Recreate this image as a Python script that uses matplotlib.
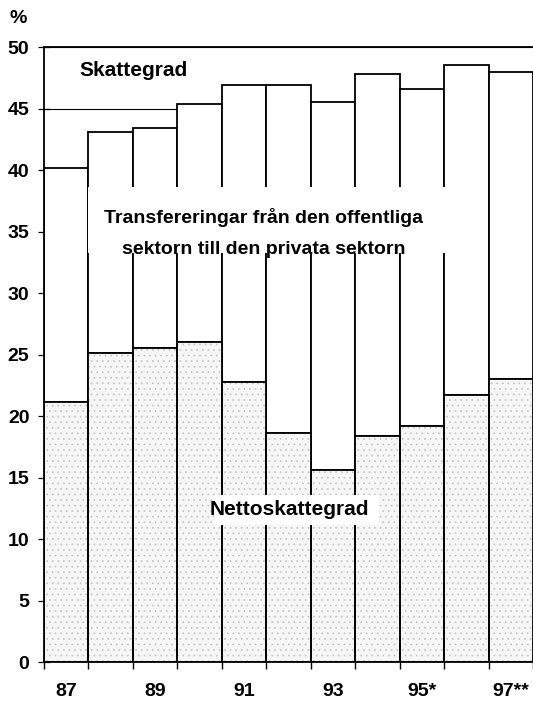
import matplotlib
matplotlib.use("Agg")
import matplotlib.pyplot as plt
import numpy as np
from matplotlib.patches import Rectangle

plt.rcParams['font.family'] = ['Liberation Sans', 'DejaVu Sans']
plt.rcParams['font.weight'] = 'bold'
plt.rcParams['hatch.linewidth'] = 0.5

# data (percent of GDP)
years = ['87', '88', '89', '90', '91', '92', '93', '94', '95*', '96', '97**']
skattegrad = [40.2, 43.1, 43.4, 45.4, 46.9, 46.9, 45.5, 47.8, 46.6, 48.5, 48.0]
nettoskattegrad = [21.1, 25.1, 25.5, 26.0, 22.8, 18.6, 15.6, 18.4, 19.2, 21.7, 23.0]
yticks = [0, 5, 10, 15, 20, 25, 30, 35, 40, 45, 50]

x = np.arange(len(years))
skatt = np.array(skattegrad)
netto = np.array(nettoskattegrad)

fig = plt.figure(figsize=(5.33, 7.03), dpi=100)
ax = fig.add_axes([0.0826, 0.0583, 0.9174, 0.8748])

# transfers part (white) on top of netto part
ax.bar(x, skatt - netto, bottom=netto, width=1.0, color='white',
       edgecolor='black', linewidth=1.3, zorder=2)
# stippled netto part: hatch first, then outline
ax.bar(x, netto, width=1.0, color='#f6f6f6', edgecolor='#c4c4c4',
       hatch='...', linewidth=0, zorder=2)
ax.bar(x, netto, width=1.0, fill=False, edgecolor='black',
       linewidth=1.3, zorder=2)

ax.set_xlim(-0.5, 10.44)
ax.set_ylim(0, 50)
ax.set_yticks(yticks)
ax.yaxis.grid(True, color='black', linewidth=0.8)
ax.set_axisbelow(True)

ax.spines['right'].set_visible(False)
for s in ['left', 'bottom', 'top']:
    ax.spines[s].set_linewidth(1.3)

ax.tick_params(axis='y', direction='inout', length=9, width=0.9,
               labelsize=14, pad=6)
# ticks at bar edges, labels at every second bar centre
ax.set_xticks(np.arange(-0.5, len(years) + 0.5, 1.0))
ax.set_xticklabels([])
ax.set_xticks(x[::2], [years[i] for i in x[::2]], minor=True)
ax.tick_params(axis='x', which='major', direction='out', length=5, width=1.0)
ax.tick_params(axis='x', which='minor', length=0, labelsize=14, pad=15)

# white gaps behind the labels
ax.add_patch(Rectangle((0.48, 33.25), 8.3, 5.35, facecolor='white',
                       edgecolor='none', zorder=3))
ax.add_patch(Rectangle((3.33, 11.1), 3.7, 2.5, facecolor='white',
                       edgecolor='none', zorder=3))

ax.text(0.3, 48.1, 'Skattegrad', fontsize=15, ha='left', va='center', zorder=4)
ax.text(4.44, 36.1, 'Transfereringar från den offentliga', fontsize=14,
        ha='center', va='center', zorder=4)
ax.text(4.44, 33.5, 'sektorn till den privata sektorn', fontsize=14,
        ha='center', va='center', zorder=4)
ax.text(5.03, 12.4, 'Nettoskattegrad', fontsize=15, ha='center',
        va='center', zorder=4)

fig.text(0.034, 0.974, '%', fontsize=14, ha='center', va='center')

fig.savefig('out.png', dpi=100)
